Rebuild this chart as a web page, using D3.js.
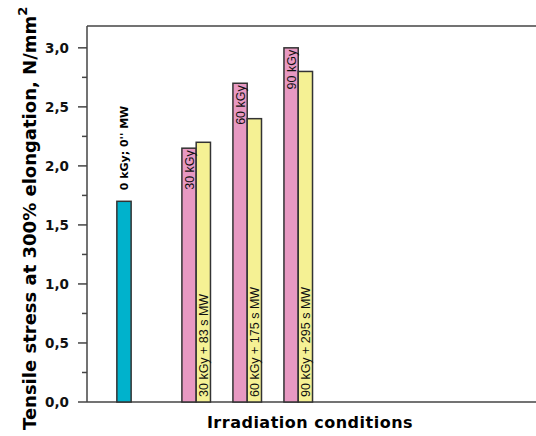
<!DOCTYPE html>
<html>
<head>
<meta charset="utf-8">
<script src="https://cdn.jsdelivr.net/npm/d3@7"></script>
<style>
  body { margin: 0; background: #fff; }
  svg { display: block; }
  .tick-label { font: bold 13.5px "DejaVu Sans", sans-serif; fill: #111; }
  .bar-label { font: 12.5px "Liberation Sans", Arial, sans-serif; fill: #111; }
</style>
</head>
<body>
<div id="chart"></div>
<script>
// Tensile stress at 300% elongation for each irradiation condition.
const REF_LABEL = "0 kGy; 0'' MW";
const REF_VALUE = 1.7;

const doses = ['30 kGy', '60 kGy', '90 kGy'];
const doseValues = [2.15, 2.7, 3.0];
const mwLabels = ['30 kGy + 83 s MW', '60 kGy + 175 s MW', '90 kGy + 295 s MW'];
const mwValues = [2.2, 2.4, 2.8];

const yTicks = [0, 0.5, 1.0, 1.5, 2.0, 2.5, 3.0];
const yMinorTicks = [0.25, 0.75, 1.25, 1.75, 2.25, 2.75];

const COLORS = { ref: '#00B2CC', dose: '#E899C2', mw: '#F5F194', stroke: '#333' };

const W = 536, H = 436;
const margin = { top: 26, right: 0, bottom: 34, left: 87 };
const innerW = W - margin.left - margin.right;
const innerH = H - margin.top - margin.bottom;

const svg = d3.select('#chart').append('svg')
  .attr('width', W).attr('height', H);

const g = svg.append('g').attr('transform', `translate(${margin.left},${margin.top})`);

const y = d3.scaleLinear().domain([0, 3.185]).range([innerH, 0]);
// x in "group slots": reference bar sits alone, irradiated groups follow
const x = d3.scaleLinear().domain([0, 8.8]).range([0, innerW]);
const barW = x(0.28) - x(0);
const refX = 0.725;
const groupX = i => 2.14 + i * 1.0;

// frame: top line, left axis, bottom axis
g.append('line').attr('x1', 0).attr('x2', innerW).attr('y1', 0).attr('y2', 0)
  .attr('stroke', '#444').attr('stroke-width', 1.5);
g.append('line').attr('x1', 0).attr('x2', innerW).attr('y1', innerH).attr('y2', innerH)
  .attr('stroke', '#444').attr('stroke-width', 1.5);
g.append('line').attr('x1', 0).attr('x2', 0).attr('y1', 0).attr('y2', innerH)
  .attr('stroke', '#444').attr('stroke-width', 1.5);

// y ticks
g.selectAll('.major').data(yTicks).join('line')
  .attr('x1', -9).attr('x2', 0)
  .attr('y1', d => y(d)).attr('y2', d => y(d))
  .attr('stroke', '#444').attr('stroke-width', 1.5);
g.selectAll('.minor').data(yMinorTicks).join('line')
  .attr('class', 'minor')
  .attr('x1', -5).attr('x2', 0)
  .attr('y1', d => y(d)).attr('y2', d => y(d))
  .attr('stroke', '#444').attr('stroke-width', 1.5);
g.selectAll('.tick-label').data(yTicks).join('text')
  .attr('class', 'tick-label')
  .attr('x', -18).attr('y', d => y(d)).attr('dy', '0.36em')
  .attr('text-anchor', 'end')
  .text(d => d.toFixed(1).replace('.', ','));

// bars
function bar(cx, v, fill) {
  g.append('rect')
    .attr('x', cx).attr('y', y(v))
    .attr('width', barW).attr('height', innerH - y(v))
    .attr('fill', fill).attr('stroke', COLORS.stroke).attr('stroke-width', 1.5);
}

bar(x(refX) - barW / 2, REF_VALUE, COLORS.ref);
doses.forEach((d, i) => {
  bar(x(groupX(i)) - barW, doseValues[i], COLORS.dose);
  bar(x(groupX(i)), mwValues[i], COLORS.mw);
});

// reference label above its bar
g.append('text')
  .attr('transform', `translate(${x(refX) + 4},${y(REF_VALUE) - 11}) rotate(-90)`)
  .attr('text-anchor', 'start')
  .style('font', 'bold 11px "DejaVu Sans", sans-serif')
  .text(REF_LABEL);

// dose labels inside pink bars, ending near the top
doses.forEach((d, i) => {
  g.append('text').attr('class', 'bar-label')
    .attr('transform', `translate(${x(groupX(i)) - barW / 2 + 4.5},${y(doseValues[i]) + 2}) rotate(-90)`)
    .attr('text-anchor', 'end')
    .text(d);
});

// MW labels inside yellow bars, from the bottom
mwLabels.forEach((d, i) => {
  g.append('text').attr('class', 'bar-label')
    .attr('transform', `translate(${x(groupX(i)) + barW / 2 + 4.5},${innerH - 5}) rotate(-90)`)
    .attr('text-anchor', 'start')
    .text(d);
});

// axis titles
svg.append('text')
  .attr('x', 310).attr('y', 428)
  .attr('text-anchor', 'middle')
  .style('font', 'bold 16px "DejaVu Sans", sans-serif')
  .style('letter-spacing', '0.5px')
  .text('Irradiation conditions');

const yt = svg.append('text')
  .attr('transform', 'translate(36,430) rotate(-90)')
  .attr('text-anchor', 'start')
  .style('font', 'bold 18px "DejaVu Sans", sans-serif');
yt.append('tspan').text('Tensile stress at 300% elongation, N/mm');
yt.append('tspan').attr('dy', -9).style('font-size', '13px').text('2');
</script>
</body>
</html>
